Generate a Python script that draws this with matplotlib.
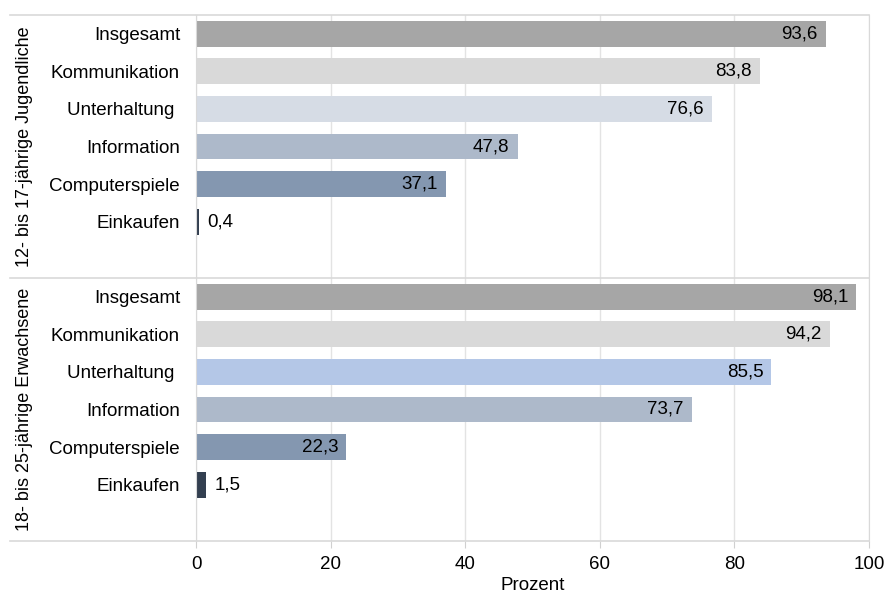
import numpy as np
import matplotlib.pyplot as plt
from matplotlib.transforms import blended_transform_factory

plt.rcParams['font.family'] = ['Liberation Sans', 'DejaVu Sans']

# Daten
gruppen = ['12- bis 17-jährige Jugendliche', '18- bis 25-jährige Erwachsene']
kategorien = ['Insgesamt', 'Kommunikation', 'Unterhaltung ', 'Information',
              'Computerspiele', 'Einkaufen']
werte_jugend = [93.6, 83.8, 76.6, 47.8, 37.1, 0.4]
werte_erwachsene = [98.1, 94.2, 85.5, 73.7, 22.3, 1.5]
farben_jugend = ['#a6a6a6', '#d9d9d9', '#d6dce5', '#adb9ca', '#8497b0', '#333f50']
farben_erwachsene = ['#a6a6a6', '#d9d9d9', '#b4c7e7', '#adb9ca', '#8497b0', '#333f50']

fs = 13.5
fig = plt.figure(figsize=(8.86, 5.96), dpi=100)
W, H = 886, 596
x0, x1, y_top, y_bot = 196, 869, 15, 541
ax = fig.add_axes([x0 / W, 1 - y_bot / H, (x1 - x0) / W, (y_bot - y_top) / H])

slots = len(kategorien) + 1
ax.set_xlim(0, 100)
ax.set_ylim(2 * slots, 0)

yticks, ylabels = [], []
for g, (werte, farben) in enumerate([(werte_jugend, farben_jugend),
                                      (werte_erwachsene, farben_erwachsene)]):
    pos = g * slots + np.arange(len(kategorien)) + 0.5
    ax.barh(pos, werte, height=0.69, color=farben, zorder=2)
    for p, v in zip(pos, werte):
        txt = f'{v:.1f}'.replace('.', ',')
        if v > 10:
            ax.text(v - 1.2, p, txt, ha='right', va='center', fontsize=fs, zorder=3)
        else:
            ax.text(v + 1.2, p, txt, ha='left', va='center', fontsize=fs, zorder=3)
    yticks += list(pos)
    ylabels += kategorien

ax.set_yticks(yticks)
ax.set_yticklabels(ylabels, fontsize=fs)
ax.tick_params(axis='y', length=0, pad=11.5)
ax.set_xticks([0, 20, 40, 60, 80, 100])
ax.tick_params(axis='x', length=5, color='#d0d0d0', labelsize=fs, pad=6)
ax.set_xlabel('Prozent', fontsize=fs, labelpad=3)
ax.grid(axis='x', color='#e3e3e3', linewidth=1, zorder=0)
ax.set_axisbelow(True)
for s in ['top', 'bottom']:
    ax.spines[s].set_visible(False)
ax.spines['left'].set_color('#d9d9d9')
ax.spines['right'].set_color('#d9d9d9')

# Gruppentrennlinien bis in den Beschriftungsbereich
trans = blended_transform_factory(fig.transFigure, ax.transData)
for yy in [0, slots, 2 * slots]:
    ax.plot([10 / W, x1 / W], [yy, yy], color='#d9d9d9', linewidth=1.2,
            transform=trans, clip_on=False, zorder=1)

for g, name in enumerate(gruppen):
    ax.text(25 / W, g * slots + slots / 2, name, rotation=90, ha='center',
            va='center', fontsize=13, transform=trans)

fig.savefig('out.png', dpi=100)
